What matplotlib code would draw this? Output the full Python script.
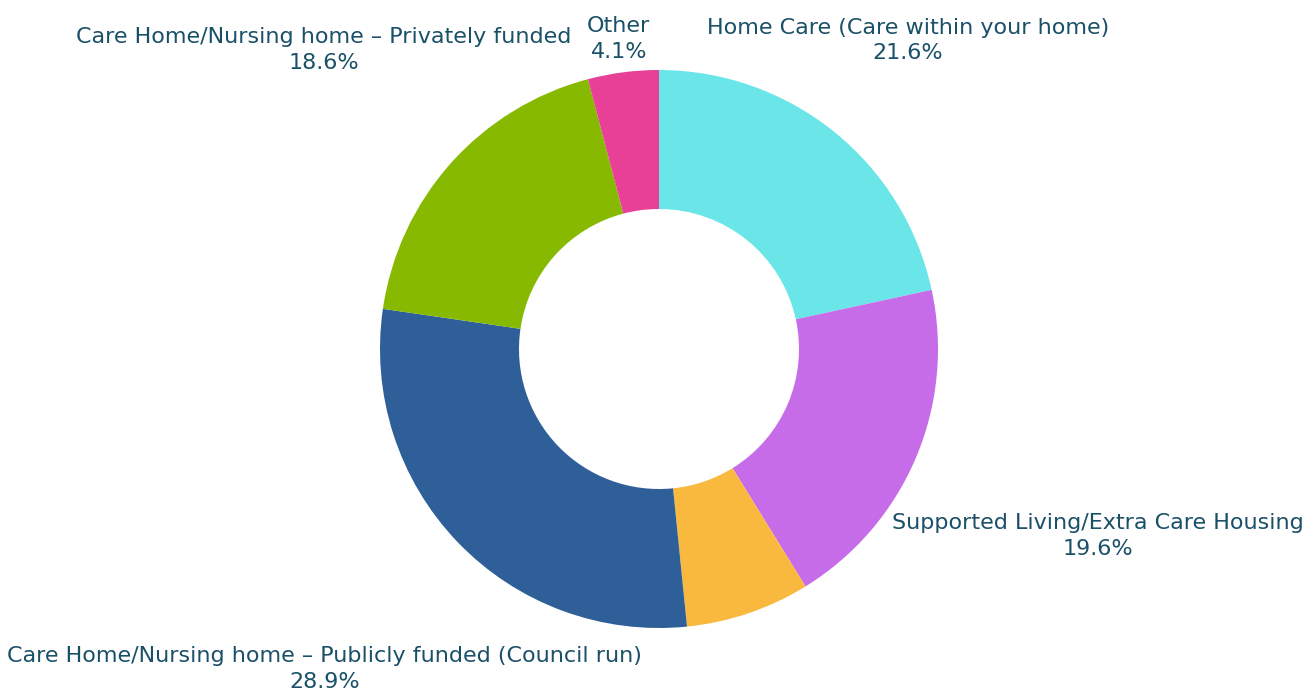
import numpy as np
import matplotlib.pyplot as plt

labels = ['Home Care (Care within your home)',
          'Supported Living/Extra Care Housing',
          '',
          'Care Home/Nursing home \u2013 Publicly funded (Council run)',
          'Care Home/Nursing home \u2013 Privately funded',
          'Other']
values = [21.6, 19.6, 7.2, 28.9, 18.6, 4.1]
colors = ['#6ae6e8', '#c76ce8', '#f8b93e', '#2e5f99', '#86b900', '#e84096']
label_dist = [1.42, 1.71, 1.3, 1.66, 1.61, 1.12]

text_color = '#1a5068'

fig = plt.figure(figsize=(13.03, 6.91), dpi=100)
ax = fig.add_axes([0, 0, 1, 1])

cx, cy, r = 659, 342, 279
wedges, _ = ax.pie(values, colors=colors, startangle=90, counterclock=False,
                   radius=r, center=(cx, cy), frame=True,
                   wedgeprops=dict(width=139, linewidth=0))
ax.set_xlim(0, 1303)
ax.set_ylim(0, 691)
ax.set_aspect('equal')
ax.axis('off')

for w, lab, val, d in zip(wedges, labels, values, label_dist):
    if not lab:
        continue
    ang = np.deg2rad((w.theta1 + w.theta2) / 2)
    x = cx + d * r * np.cos(ang)
    y = cy + d * r * np.sin(ang)
    ax.text(x, y, f'{lab}\n{val}%', ha='center', va='center',
            fontsize=16, color=text_color, family='DejaVu Sans',
            linespacing=1.35)

fig.savefig('out.png', dpi=100)
